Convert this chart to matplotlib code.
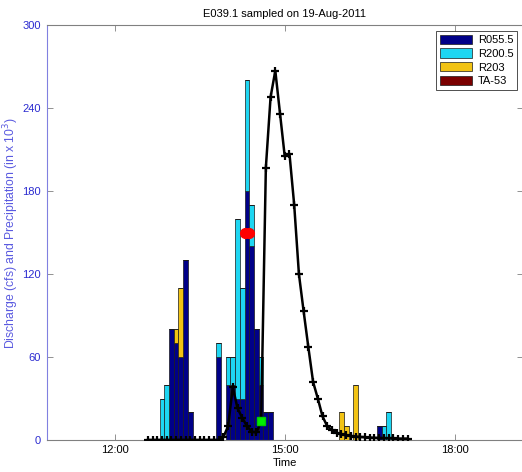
import numpy as np
import matplotlib
matplotlib.use('Agg')
import matplotlib.pyplot as plt

plt.rcParams['font.family'] = ['Liberation Sans', 'DejaVu Sans']

# rain gauge totals per 5-minute interval
rain_times = ['12:50', '12:55', '13:00', '13:05', '13:10', '13:15', '13:20',
              '13:50', '14:00', '14:05', '14:10', '14:15', '14:20', '14:25',
              '14:30', '14:35', '14:40', '14:45',
              '16:00', '16:05', '16:15', '16:40', '16:45', '16:50']
r055_5 = [0, 0, 80, 70, 60, 130, 20,
          60, 40, 40, 30, 30, 180, 140,
          80, 40, 20, 20,
          0, 0, 0, 10, 0, 0]
r200_5 = [30, 40, 0, 0, 0, 0, 0,
          10, 20, 20, 130, 80, 80, 30,
          0, 20, 0, 0,
          0, 0, 0, 0, 10, 20]
r203 = [0, 0, 0, 10, 50, 0, 0,
        0, 0, 0, 0, 0, 0, 0,
        0, 0, 0, 0,
        20, 10, 40, 0, 0, 0]
ta_53 = [0] * len(rain_times)

# discharge every 5 minutes from 12:35 to 17:10
q_start, q_end = '12:35', '17:10'
discharge = [0] * 16 + [
    2, 10, 38, 23, 16, 10, 6, 5.5, 13, 197, 248, 267, 236, 205, 207, 170,
    120, 93, 67, 42, 30, 17, 10, 7, 5, 4, 3.5, 3, 2.5, 2.2, 2, 1.8, 1.6,
    1.4, 1.3, 1.2, 1.1, 1, 1, 1]

# sample markers
red_times = ['14:18', '14:22']
red_vals = [150, 150]
green_times = ['14:35']
green_vals = [13.5]


def hrs(t):
    h, m = t.split(':')
    return int(h) + int(m) / 60.0


tx = np.array([hrs(t) for t in rain_times])
qx = np.arange(hrs(q_start), hrs(q_end) + 1e-6, 5 / 60.0)

fig = plt.figure(figsize=(5.22, 4.72), dpi=100)
ax = fig.add_axes([0.0895, 0.0678, 0.912, 0.879])

gauges = [('R055.5', r055_5, '#000088'),
          ('R200.5', r200_5, '#1ed6f2'),
          ('R203', r203, '#f2c314'),
          ('TA-53', ta_53, '#7a0000')]
bottom = np.zeros(len(rain_times))
for name, vals, col in gauges:
    vals = np.array(vals, dtype=float)
    ax.bar(tx, vals, width=5 / 60.0, bottom=bottom, color=col,
           edgecolor='#1a1a1a', linewidth=0.5, label=name, align='center')
    bottom += vals

ax.plot(qx, discharge, color='black', lw=1.8, marker='+', ms=6, mew=1.6,
        zorder=4)
ax.plot([hrs(t) for t in red_times], red_vals, 'o', color='red', ms=7,
        mec='red', zorder=5)
ax.plot([hrs(t) for t in green_times], green_vals, 's', color='#00ee00',
        ms=6, mec='#00cc00', zorder=5)

ax.set_xlim(hrs('10:48'), hrs('19:12'))
ax.set_ylim(0, 300)
ax.set_xticks([12, 15, 18])
ax.set_xticklabels(['12:00', '15:00', '18:00'])
ax.set_yticks(np.arange(0, 301, 60))

ax.tick_params(direction='in', top=True, right=True, length=4, width=0.6,
               labelsize=8, color='#808080')
ax.tick_params(axis='y', labelcolor='#2b2bd0', pad=4)
for s in ax.spines.values():
    s.set_color('#808080')
    s.set_linewidth(0.8)
ax.spines['left'].set_color('#8080e0')

ax.set_title('E039.1 sampled on 19-Aug-2011', fontsize=8, pad=6)
ax.set_xlabel('Time', fontsize=8, labelpad=2)
ax.set_ylabel('Discharge (cfs) and Precipitation (in x 10$^3$)',
              fontsize=8.8, color='#5a5ae0', labelpad=1)

leg = ax.legend(loc='upper right', fontsize=8, frameon=True, fancybox=False,
                edgecolor='black', handlelength=2.9, handleheight=0.9,
                borderpad=0.35, labelspacing=0.3, handletextpad=0.5,
                borderaxespad=0.5)
leg.get_frame().set_linewidth(0.6)

plt.savefig('out.png', dpi=100)
